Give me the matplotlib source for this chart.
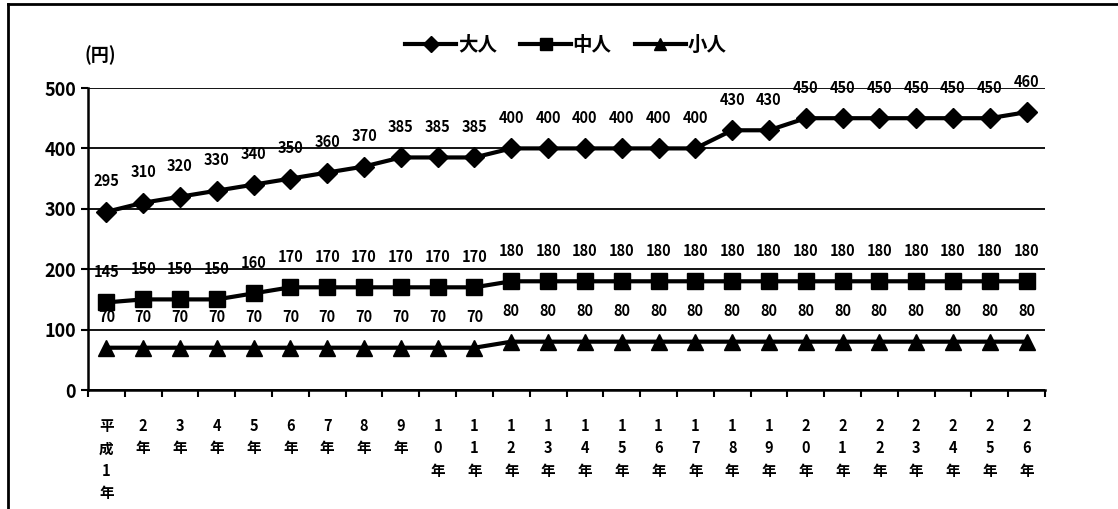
import matplotlib
matplotlib.use('Agg')
import matplotlib.pyplot as plt
from matplotlib.lines import Line2D

plt.rcParams['font.family'] = ['Noto Sans CJK JP', 'DejaVu Sans']

# 平成1年 .. 平成26年
years = list(range(1, 27))
adult = [295, 310, 320, 330, 340, 350, 360, 370, 385, 385, 385, 400, 400,
         400, 400, 400, 400, 430, 430, 450, 450, 450, 450, 450, 450, 460]
middle = [145, 150, 150, 150, 160, 170, 170, 170, 170, 170, 170, 180, 180,
          180, 180, 180, 180, 180, 180, 180, 180, 180, 180, 180, 180, 180]
child = [70, 70, 70, 70, 70, 70, 70, 70, 70, 70, 70, 80, 80,
         80, 80, 80, 80, 80, 80, 80, 80, 80, 80, 80, 80, 80]
names = ['大人', '中人', '小人']
yticks = [0, 100, 200, 300, 400, 500]

labels = []
for y in years:
    s = '\n'.join(list(str(y))) + '\n年'
    if y == 1:
        s = '平\n成\n' + s
    labels.append(s)

W, H = 1118, 509
fig = plt.figure(figsize=(W / 100, H / 100), dpi=100)
ax = fig.add_axes([88 / W, 1 - 390 / H, (1045 - 88) / W, (390 - 88) / H])

x = list(range(len(years)))
series = [(adult, 'D', 10), (middle, 's', 11), (child, '^', 11)]
for (vals, mk, ms), nm in zip(series, names):
    ax.plot(x, vals, color='black', lw=3, marker=mk, ms=ms, label=nm)
    for xi, v in zip(x, vals):
        ax.annotate(str(v), (xi, v), xytext=(0, 22), textcoords='offset points',
                    ha='center', va='center', fontsize=10.5, fontweight='bold')

ax.set_xlim(-0.5, len(years) - 0.5)
ax.set_ylim(0, 500)
ax.set_yticks(yticks)
ax.tick_params(axis='y', labelsize=13, length=5, width=1.5, direction='out')
for t in ax.get_yticklabels():
    t.set_fontweight('bold')
ax.set_xticks(x)
ax.set_xticklabels(labels, fontsize=10.5, fontweight='bold', linespacing=1.5, va='top')
ax.set_xticks([i - 0.5 for i in range(len(years) + 1)], minor=True)
ax.tick_params(axis='x', which='major', length=0, pad=20)
ax.tick_params(axis='x', which='minor', length=5, width=1.5, direction='out')
ax.grid(axis='y', color='black', lw=1.3)
ax.set_axisbelow(True)
for s in ['top', 'right']:
    ax.spines[s].set_visible(False)
for s in ['left', 'bottom']:
    ax.spines[s].set_linewidth(1.8)

fig.text(100 / W, 1 - 55 / H, '(円)', fontsize=13, fontweight='bold', ha='center', va='center')

fig.legend(loc='center', bbox_to_anchor=(566 / W, 1 - 45 / H), ncol=3, frameon=False,
           handlelength=2.6, handletextpad=0.1, columnspacing=1.2, markerscale=0.8,
           prop={'size': 14, 'weight': 'bold'})

fig.add_artist(Line2D([8 / W, 8 / W], [0, 1 - 4 / H], transform=fig.transFigure, color='black', lw=2))
fig.add_artist(Line2D([8 / W, 1], [1 - 4 / H, 1 - 4 / H], transform=fig.transFigure, color='black', lw=2))

fig.savefig('out.png', dpi=100)
